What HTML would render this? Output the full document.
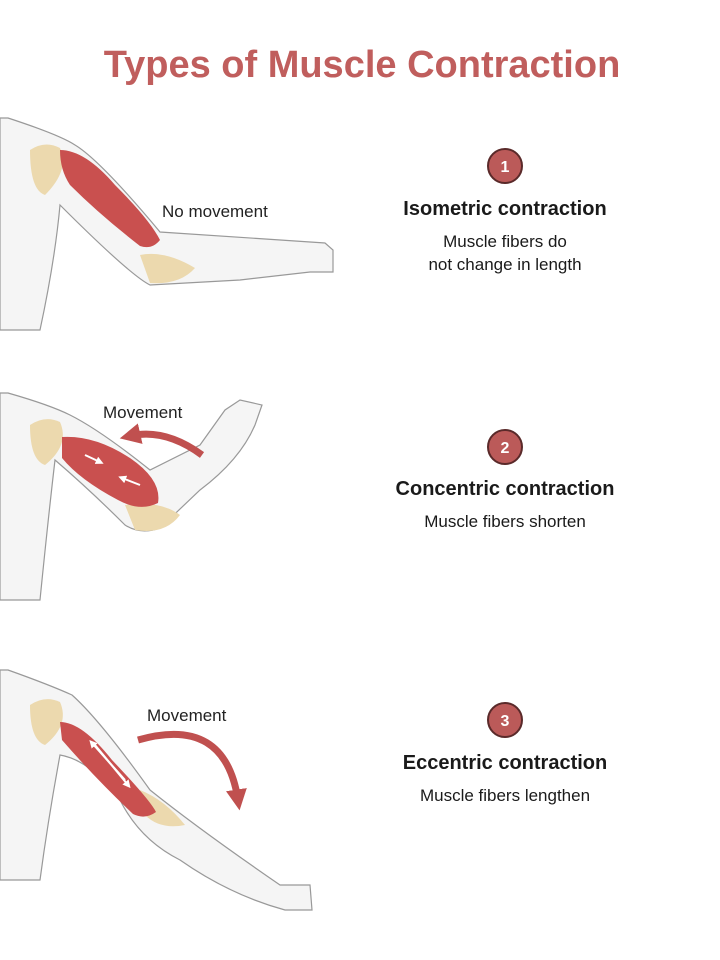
<!DOCTYPE html>
<html><head><meta charset="utf-8"><style>
body{margin:0;background:#fff;}
svg{display:block}
text{font-family:"Liberation Sans",sans-serif;}
</style></head><body>
<svg width="720" height="960" viewBox="0 0 720 960">
<defs>
<marker id="ah" markerWidth="3" markerHeight="3" refX="1.5" refY="1.5" orient="auto"><path d="M0,0L3,1.5L0,3Z" fill="#c0504f"/></marker>
<marker id="wh" markerWidth="4" markerHeight="4" refX="2" refY="2" orient="auto"><path d="M0,0L4,2L0,4Z" fill="#fff"/></marker>
</defs>
<text x="362" y="77" text-anchor="middle" font-size="38" font-weight="bold" fill="#c05e5d">Types of Muscle Contraction</text>

<!-- Arm 1 -->
<g stroke="#999" stroke-width="1.2" fill="#f5f5f5">
<path d="M8,118 Q60,135 75,145 Q100,160 160,232 L325,243 L333,250 L333,272 L310,272 L240,280 L150,285 Q130,275 60,205 Q55,260 40,330 L0,330 L0,118Z"/>
</g>
<path d="M30,150 Q45,140 60,148 Q70,170 45,195 Q30,190 30,150Z" fill="#ecd9ae"/>
<path d="M140,255 Q165,250 195,268 Q180,285 150,283Z" fill="#ecd9ae"/>
<path d="M60,150 Q85,150 115,185 Q150,220 160,240 Q152,250 140,246 Q100,215 70,185 Q60,170 60,150Z" fill="#c9504f"/>
<text x="162" y="217" font-size="17" fill="#222">No movement</text>

<!-- Arm 2 -->
<g stroke="#999" stroke-width="1.2" fill="#f5f5f5">
<path d="M8,393 Q50,405 70,415 Q100,430 150,470 L200,445 L225,410 L240,400 L262,405 L255,425 Q240,460 200,490 L160,528 Q140,535 125,525 Q90,490 55,460 Q48,520 40,600 L0,600 L0,393Z"/>
</g>
<path d="M30,425 Q45,415 60,422 Q70,445 45,465 Q30,460 30,425Z" fill="#ecd9ae"/>
<path d="M125,505 Q160,500 180,515 Q165,535 135,530Z" fill="#ecd9ae"/>
<path d="M62,437 Q95,435 130,458 Q162,480 158,503 Q140,512 118,500 Q80,480 62,458Z" fill="#c9504f"/>
<path d="M85,455 L100,462" stroke="#fff" stroke-width="2" marker-end="url(#wh)"/>
<path d="M140,485 L122,478" stroke="#fff" stroke-width="2" marker-end="url(#wh)"/>
<path d="M202,455 Q165,428 130,436" stroke="#c0504f" stroke-width="7" fill="none" marker-end="url(#ah)"/>
<text x="103" y="418" font-size="17" fill="#222">Movement</text>

<!-- Arm 3 -->
<g stroke="#999" stroke-width="1.2" fill="#f5f5f5">
<path d="M8,670 Q50,685 72,695 Q100,720 150,790 Q200,830 280,885 L310,885 L312,910 L285,910 Q230,895 180,860 Q140,840 120,800 Q90,760 60,755 Q48,820 40,880 L0,880 L0,670Z"/>
</g>
<path d="M30,705 Q45,695 60,702 Q70,725 45,745 Q30,740 30,705Z" fill="#ecd9ae"/>
<path d="M140,790 Q165,800 185,825 Q160,830 145,815Z" fill="#ecd9ae"/>
<path d="M60,722 Q82,722 112,760 Q150,800 156,812 Q145,820 133,814 Q95,778 62,740Z" fill="#c9504f"/>
<path d="M125,780 L92,743" stroke="#fff" stroke-width="2" marker-end="url(#wh)"/>
<path d="M95,745 L128,785" stroke="#fff" stroke-width="2" marker-end="url(#wh)"/>
<path d="M138,740 Q225,715 238,800" stroke="#c0504f" stroke-width="7" fill="none" marker-end="url(#ah)"/>
<text x="147" y="721" font-size="17" fill="#222">Movement</text>

<!-- Right column -->
<g font-size="16" text-anchor="middle">
<circle cx="505" cy="166" r="17" fill="#bb5a59" stroke="#5a2a2a" stroke-width="2"/>
<text x="505" y="172" fill="#fff" font-weight="bold">1</text>
<circle cx="505" cy="447" r="17" fill="#bb5a59" stroke="#5a2a2a" stroke-width="2"/>
<text x="505" y="453" fill="#fff" font-weight="bold">2</text>
<circle cx="505" cy="720" r="17" fill="#bb5a59" stroke="#5a2a2a" stroke-width="2"/>
<text x="505" y="726" fill="#fff" font-weight="bold">3</text>
</g>
<g text-anchor="middle" fill="#1a1a1a">
<text x="505" y="215" font-size="20" font-weight="bold">Isometric contraction</text>
<text x="505" y="247" font-size="17">Muscle fibers do</text>
<text x="505" y="270" font-size="17">not change in length</text>
<text x="505" y="495" font-size="20" font-weight="bold">Concentric contraction</text>
<text x="505" y="527" font-size="17">Muscle fibers shorten</text>
<text x="505" y="769" font-size="20" font-weight="bold">Eccentric contraction</text>
<text x="505" y="801" font-size="17">Muscle fibers lengthen</text>
</g>
</svg>
</body></html>
